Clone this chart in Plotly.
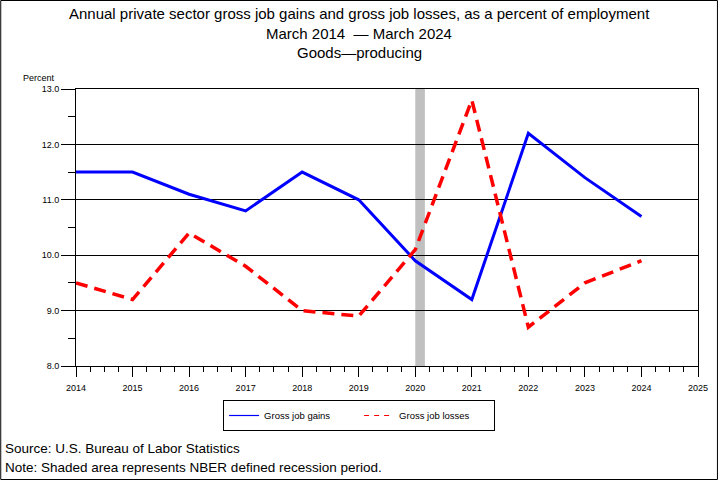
import plotly.graph_objects as go

years = [2014, 2015, 2016, 2017, 2018, 2019, 2020, 2021, 2022, 2023, 2024]
gross_job_gains = [11.5, 11.5, 11.1, 10.8, 11.5, 11.0, 9.9, 9.2, 12.2, 11.4, 10.7]
gross_job_losses = [9.5, 9.2, 10.4, 9.8, 9.0, 8.9, 10.1, 12.8, 8.7, 9.5, 9.9]
x_tick_vals = [2014, 2015, 2016, 2017, 2018, 2019, 2020, 2021, 2022, 2023, 2024, 2025]
x_tick_text = [str(v) for v in x_tick_vals]
y_tick_vals = [8.0, 9.0, 10.0, 11.0, 12.0, 13.0]
recession = (2020.0, 2020.17)

W, H = 720, 480
L, R, T, B = 76, 20, 89, 114
pw, ph = W - L - R, H - T - B

def px_x(p):
    return (p - L) / pw

def px_y(p):
    return (H - B - p) / ph

FONT = "Liberation Sans, Arial, sans-serif"

fig = go.Figure()
fig.add_trace(go.Scatter(x=years, y=gross_job_gains, mode="lines", name="Gross job gains",
                         line=dict(color="#0000FF", width=3), showlegend=False))
fig.add_trace(go.Scatter(x=years, y=gross_job_losses, mode="lines", name="Gross job losses",
                         line=dict(color="#FF0000", width=3.5, dash="12px,7px"), showlegend=False))
# legend entries (thin lines like the reference legend)
fig.add_trace(go.Scatter(x=[None], y=[None], mode="lines", name="Gross job gains",
                         line=dict(color="#0000FF", width=1.2)))
fig.add_trace(go.Scatter(x=[None], y=[None], mode="lines", name="Gross job losses",
                         line=dict(color="#FF0000", width=1.2, dash="5px,5px")))

fig.add_shape(type="rect", xref="x", yref="paper", x0=recession[0], x1=recession[1], y0=0, y1=1,
              fillcolor="#C0C0C0", line=dict(width=0), layer="below")
# outer frame
fig.add_shape(type="rect", xref="paper", yref="paper", x0=px_x(0.5), x1=px_x(719.5),
              y0=px_y(479.5), y1=px_y(0.5), line=dict(color="black", width=1), fillcolor="rgba(0,0,0,0)")

titles = [
    ("Annual private sector gross job gains and gross job losses, as a percent of employment", 14),
    ("March 2014  \u2014 March 2024", 33),
    ("Goods\u2014producing", 52),
]
for txt, yy in titles:
    fig.add_annotation(text=txt, xref="paper", yref="paper", x=px_x(360), y=px_y(yy),
                       xanchor="center", yanchor="middle", showarrow=False,
                       font=dict(family=FONT, size=15, color="black"))

fig.add_annotation(text="Percent", xref="paper", yref="paper", x=px_x(57), y=px_y(78),
                   xanchor="right", yanchor="middle", showarrow=False,
                   font=dict(family=FONT, size=9, color="black"))
for txt, yy in [("Source: U.S. Bureau of Labor Statistics", 448),
                ("Note: Shaded area represents NBER defined recession period.", 467)]:
    fig.add_annotation(text=txt, xref="paper", yref="paper", x=px_x(3), y=px_y(yy),
                       xanchor="left", yanchor="middle", showarrow=False,
                       font=dict(family=FONT, size=13.5, color="black"))

fig.update_layout(
    width=W, height=H,
    margin=dict(l=L, r=R, t=T, b=B),
    paper_bgcolor="white", plot_bgcolor="white",
    font=dict(family=FONT, color="black"),
    showlegend=True,
    legend=dict(orientation="h", x=px_x(360), y=px_y(400), xanchor="center", yanchor="top",
                bordercolor="black", borderwidth=1, bgcolor="white",
                font=dict(family=FONT, size=9.5, color="black"),
                entrywidth=90, entrywidthmode="pixels", itemwidth=30),
    xaxis=dict(range=[2014, 2025], tickvals=x_tick_vals, ticktext=x_tick_text,
               showgrid=False, zeroline=False, showline=True, mirror=True,
               linecolor="black", linewidth=1, ticks="outside", ticklen=10, tickcolor="black",
               tickfont=dict(family=FONT, size=9), ticklabelstandoff=3,
               minor=dict(dtick=0.25, tick0=2014, ticks="outside", ticklen=5, tickcolor="black", showgrid=False)),
    yaxis=dict(range=[8, 13], tickvals=y_tick_vals, tickformat=".1f",
               showgrid=True, gridcolor="black", gridwidth=1, zeroline=False,
               showline=True, mirror=True, linecolor="black", linewidth=1,
               ticks="outside", ticklen=14, tickcolor="black",
               tickfont=dict(family=FONT, size=9),
               minor=dict(dtick=0.5, tick0=8, ticks="outside", ticklen=7, tickcolor="black", showgrid=False)),
)

fig.write_html("out.html", config={"displayModeBar": False},
               post_script="document.body.style.margin='0px';document.body.style.overflow='hidden';")
